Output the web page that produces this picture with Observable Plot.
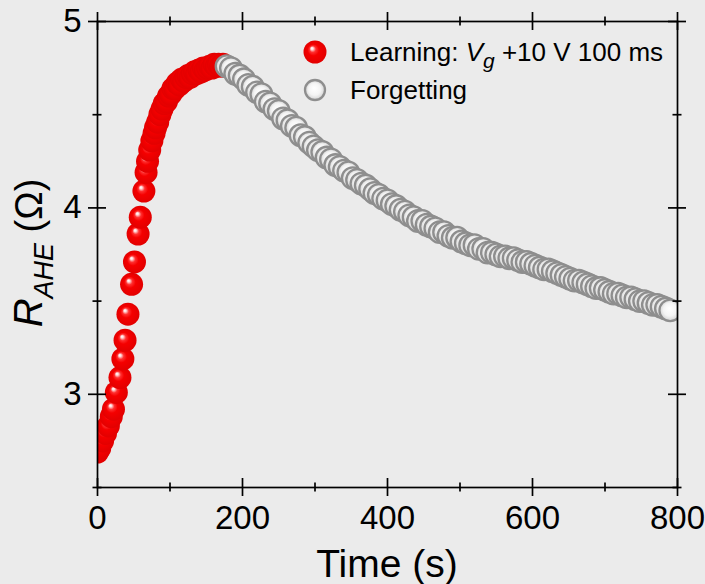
<!DOCTYPE html>
<html><head><meta charset="utf-8">
<script src="https://cdn.jsdelivr.net/npm/d3@7"></script>
<script src="https://cdn.jsdelivr.net/npm/@observablehq/plot@0.6"></script>
<style>
html,body{margin:0;padding:0;background:#ebebeb;}
#chart svg{display:block;}
</style></head><body><div id="chart"></div>
<script>
const learnTime = [0,3,7,11,15,19,22,26,31,35,38,42,47,51,56,59,64,67,69,72,75,78,80,83,86,89,92,95,98,101,104,107,110,113,116,119,122,125,128,131,134,137,140,143,146,149,152,155,158,161,164,167,170,173,176];
const learnR = [2.69,2.71,2.75,2.79,2.83,2.88,2.92,3.01,3.09,3.19,3.29,3.43,3.59,3.71,3.86,3.95,4.09,4.19,4.25,4.31,4.36,4.40,4.43,4.46,4.50,4.53,4.56,4.57,4.60,4.61,4.64,4.64,4.67,4.66,4.69,4.68,4.70,4.71,4.70,4.72,4.73,4.72,4.74,4.73,4.75,4.74,4.75,4.76,4.75,4.77,4.76,4.77,4.76,4.77,4.76];
const forgetTime = [178,184,190,196,202,208,214,220,226,232,238,244,250,256,262,268,274,280,286,292,298,304,310,316,322,328,334,340,346,352,358,364,370,376,382,388,394,400,406,412,418,424,430,436,442,448,454,460,466,472,478,484,490,496,502,508,514,520,526,532,538,544,550,556,562,568,574,580,586,592,598,604,610,616,622,628,634,640,646,652,658,664,670,676,682,688,694,700,706,712,718,724,730,736,742,748,754,760,766,772,778,784,790];
const forgetR = [4.76,4.75,4.72,4.71,4.69,4.66,4.65,4.62,4.61,4.57,4.56,4.53,4.52,4.48,4.47,4.44,4.43,4.39,4.38,4.35,4.33,4.31,4.30,4.27,4.26,4.23,4.22,4.20,4.19,4.16,4.15,4.13,4.12,4.10,4.08,4.07,4.05,4.04,4.02,4.01,3.99,3.98,3.96,3.95,3.93,3.93,3.91,3.90,3.89,3.87,3.87,3.85,3.84,3.84,3.82,3.81,3.80,3.80,3.78,3.78,3.76,3.76,3.75,3.74,3.74,3.73,3.73,3.72,3.71,3.71,3.70,3.69,3.68,3.67,3.67,3.66,3.65,3.64,3.63,3.62,3.61,3.61,3.60,3.59,3.58,3.57,3.57,3.56,3.55,3.54,3.54,3.53,3.52,3.52,3.51,3.50,3.50,3.49,3.48,3.48,3.47,3.46,3.45];
const xTicks = [0,200,400,600,800];
const xMinor = [100,300,500,700];
const yTicks = [3,4,5];
const yMinor = [2.5,3.5,4.5];
const xTitle = "Time (s)";
const legendLearning = ["Learning: ", "V", "g", " +10 V 100 ms"];
const legendForgetting = "Forgetting";

const learn = learnTime.map((t,i)=>({t, r: learnR[i]}));
const forget = forgetTime.map((t,i)=>({t, r: forgetR[i]}));

const W = 705, H = 584, mL = 97, mR = 28, mT = 21, mB = 97;
const iW = W - mL - mR, iH = H - mT - mB;
const font = "'Liberation Sans', Arial, Helvetica, sans-serif";
const tk = {stroke: "black", strokeWidth: 1.7};

const plot = Plot.plot({
  width: W, height: H,
  marginLeft: mL, marginRight: mR, marginTop: mT, marginBottom: mB,
  style: {background: "#ebebeb", fontFamily: font, color: "black"},
  x: {domain: [0, 800]},
  y: {domain: [2.5, 5]},
  marks: [
    Plot.dot(learn, {x: "t", y: "r", r: 11.5, fill: "url(#redBall)", stroke: "none", clip: true}),
    Plot.dot(forget, {x: "t", y: "r", r: 10.8, fill: "url(#grayBall)", stroke: "#8e8e8e", strokeWidth: 2.3, clip: true}),
    Plot.frame({stroke: "black", strokeWidth: 1.7}),
    Plot.tickX(xTicks, {x: d => d, insetTop: iH - 9, insetBottom: -9, ...tk}),
    Plot.tickX(xMinor, {x: d => d, insetTop: iH - 4.5, insetBottom: -4.5, ...tk}),
    Plot.tickX(xTicks, {x: d => d, insetTop: -9, insetBottom: iH - 9, ...tk}),
    Plot.tickX(xMinor, {x: d => d, insetTop: -4.5, insetBottom: iH - 4.5, ...tk}),
    Plot.tickY(yTicks, {y: d => d, insetLeft: -9, insetRight: iW - 9, ...tk}),
    Plot.tickY(yMinor, {y: d => d, insetLeft: -4.5, insetRight: iW - 4.5, ...tk}),
    Plot.tickY(yTicks, {y: d => d, insetLeft: iW - 9, insetRight: -9, ...tk}),
    Plot.tickY(yMinor, {y: d => d, insetLeft: iW - 4.5, insetRight: -4.5, ...tk}),
    Plot.axisX(xTicks, {tickSize: 0, tickPadding: 18, fontSize: 33, label: null, fill: "black", tickFormat: d => String(d)}),
    Plot.axisY(yTicks, {tickSize: 0, tickPadding: 16, fontSize: 33, label: null, fill: "black", tickFormat: d => String(d)})
  ]
});

const svg = d3.select(plot);
const defs = svg.insert("defs", ":first-child");
const rg = defs.append("radialGradient").attr("id", "redBall")
  .attr("cx", 0.5).attr("cy", 0.5).attr("r", 0.5).attr("fx", 0.36).attr("fy", 0.33);
[[0, "#ffffff"], [0.1, "#ffe0e0"], [0.28, "#ff3030"], [0.5, "#f50000"], [1, "#e20000"]]
  .forEach(([o, c]) => rg.append("stop").attr("offset", o).attr("stop-color", c));
const gg = defs.append("radialGradient").attr("id", "grayBall")
  .attr("cx", 0.5).attr("cy", 0.5).attr("r", 0.5).attr("fx", 0.45).attr("fy", 0.4);
[[0, "#ffffff"], [0.6, "#f4f4f4"], [1, "#d2d2d2"]]
  .forEach(([o, c]) => gg.append("stop").attr("offset", o).attr("stop-color", c));

svg.append("text").attr("x", mL + iW / 2).attr("y", 577).attr("text-anchor", "middle")
  .attr("font-family", font).attr("font-size", 39).attr("fill", "black").text(xTitle);

const yt = svg.append("text").attr("transform", `translate(42,253) rotate(-90)`)
  .attr("text-anchor", "middle").attr("font-family", font).attr("fill", "black");
yt.append("tspan").attr("font-style", "italic").attr("font-size", 40).text("R");
yt.append("tspan").attr("font-style", "italic").attr("font-size", 27).attr("dy", 11).text("AHE");
yt.append("tspan").attr("font-size", 38).attr("dy", -11).text("\u00a0(\u03A9)");

const lg = svg.append("g").attr("text-anchor", "start");
lg.append("circle").attr("cx", 315).attr("cy", 52).attr("r", 11.5).attr("fill", "url(#redBall)");
lg.append("circle").attr("cx", 315).attr("cy", 90).attr("r", 10).attr("fill", "url(#grayBall)")
  .attr("stroke", "#8e8e8e").attr("stroke-width", 2.3);
const t1 = lg.append("text").attr("x", 350).attr("y", 61).attr("text-anchor", "start").attr("font-family", font)
  .attr("font-size", 26).attr("fill", "black");
t1.append("tspan").text(legendLearning[0]);
t1.append("tspan").attr("font-style", "italic").text(legendLearning[1]);
t1.append("tspan").attr("font-style", "italic").attr("font-size", 21).attr("dy", 7).text(legendLearning[2]);
t1.append("tspan").attr("dy", -7).text(legendLearning[3]);
lg.append("text").attr("x", 350).attr("y", 99).attr("text-anchor", "start").attr("font-family", font)
  .attr("font-size", 26).attr("fill", "black").text(legendForgetting);

document.getElementById("chart").appendChild(plot);
</script></body></html>
